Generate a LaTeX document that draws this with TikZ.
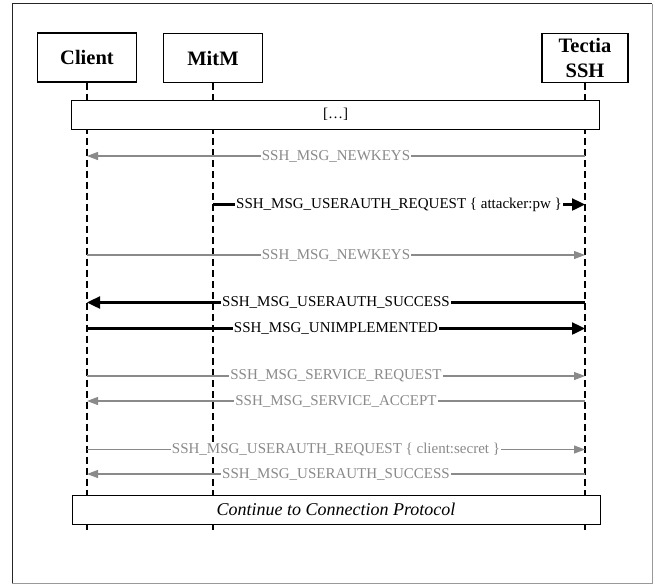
\documentclass[tikz,border=0pt]{standalone}
\usepackage{fontspec}
\setmainfont{Liberation Serif}
\usetikzlibrary{arrows.meta}
\definecolor{msgray}{HTML}{8A8A8A}
\begin{document}
\begin{tikzpicture}[x=1pt,y=-1pt,
  actor/.style={draw=black, line width=1.4pt, fill=white, font=\fontsize{20.5}{25}\selectfont\bfseries, align=center, inner sep=0pt, minimum height=49pt},
  lifeline/.style={draw=black, line width=1.3pt, dash pattern=on 7pt off 4pt},
  band/.style={draw=black, line width=0.8pt, fill=white, minimum width=528pt, minimum height=29pt, inner sep=0pt, font=\fontsize{15}{18}\selectfont},
  msggray/.style={draw=msgray, line width=1.2pt, -{Triangle[length=11pt,width=8pt]}},
  msgblack/.style={draw=black, line width=2.4pt, -{Triangle[length=13pt,width=12pt]}},
  lblgray/.style={fill=white, text=msgray, inner sep=1pt, font=\fontsize{15}{18}\selectfont},
  lblblack/.style={fill=white, text=black, inner sep=1pt, font=\fontsize{15}{18}\selectfont},
]
\useasboundingbox (0,0) rectangle (655,584);
% outer frame
\draw[black!85, line width=1pt] (12,583) -- (12,3.5) -- (652,3.5);
\draw[black!40, line width=1pt] (652,3.5) -- (652,583) -- (12,583);

% actors
\node[actor, minimum width=99pt] (client) at (87,57.5) {Client};
\node[actor, minimum width=99pt] (mitm) at (213,58) {MitM};
\node[actor, minimum width=86pt] (tectia) at (585,58) {Tectia\\SSH};

% row coordinates
\coordinate (lend) at (0,530);
\coordinate (r1) at (0,156);
\coordinate (r2) at (0,204.5);
\coordinate (r3) at (0,255);
\coordinate (r4) at (0,302.5);
\coordinate (r5) at (0,328.5);
\coordinate (r6) at (0,376);
\coordinate (r7) at (0,401);
\coordinate (r8) at (0,449.5);
\coordinate (r9) at (0,474);

% lifelines
\draw[lifeline] (client.south) -- (client.south |- lend);
\draw[lifeline] (mitm.south) -- (mitm.south |- lend);
\draw[lifeline] (tectia.south) -- (tectia.south |- lend);

% bands
\node[band] (dots) at (335.5,114.5) {[\ldots]};
\node[band, font=\fontsize{18}{20}\selectfont\itshape] (cont) at (336,509.5) {Continue to Connection Protocol};

% messages
\draw[msggray] (tectia |- r1) -- node[lblgray] {SSH\_MSG\_NEWKEYS} (client |- r1);
\draw[msgblack] (mitm |- r2) -- node[lblblack] {SSH\_MSG\_USERAUTH\_REQUEST \{ attacker:pw \}} (tectia |- r2);
\draw[msggray] (client |- r3) -- node[lblgray] {SSH\_MSG\_NEWKEYS} (tectia |- r3);
\draw[msgblack] (tectia |- r4) -- node[lblblack] {SSH\_MSG\_USERAUTH\_SUCCESS} (client |- r4);
\draw[msgblack] (client |- r5) -- node[lblblack] {SSH\_MSG\_UNIMPLEMENTED} (tectia |- r5);
\draw[msggray] (client |- r6) -- node[lblgray] {SSH\_MSG\_SERVICE\_REQUEST} (tectia |- r6);
\draw[msggray] (tectia |- r7) -- node[lblgray] {SSH\_MSG\_SERVICE\_ACCEPT} (client |- r7);
\draw[msggray] (client |- r8) -- node[lblgray] {SSH\_MSG\_USERAUTH\_REQUEST \{ client:secret \}} (tectia |- r8);
\draw[msggray] (tectia |- r9) -- node[lblgray] {SSH\_MSG\_USERAUTH\_SUCCESS} (client |- r9);
\end{tikzpicture}
\end{document}
